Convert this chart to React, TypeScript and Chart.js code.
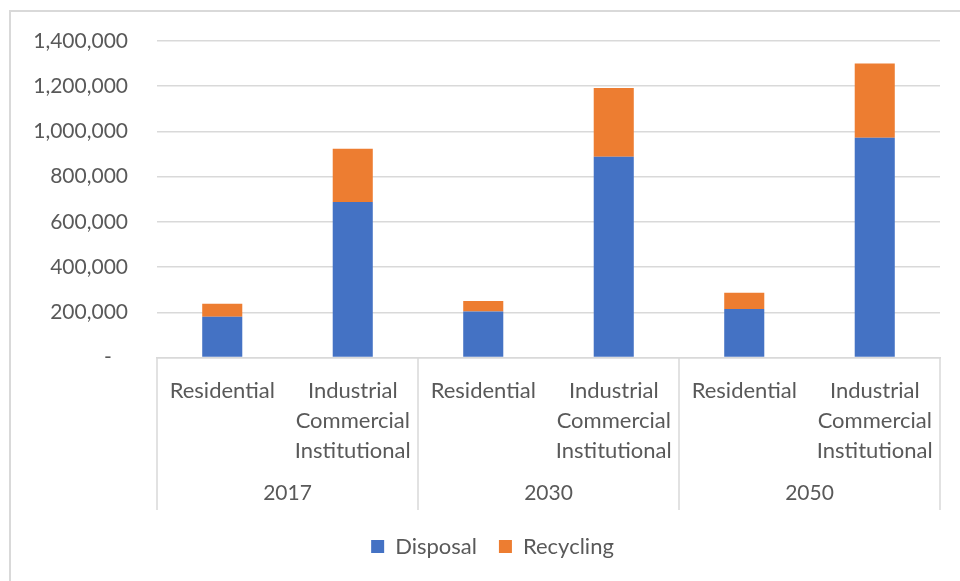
import React, { useEffect, useRef } from 'react';
import { Chart, registerables } from 'chart.js';

Chart.register(...registerables);

// ---- data ----
const categories: string[][] = [
  ['Residential'],
  ['Industrial', 'Commercial', 'Institutional'],
  ['Residential'],
  ['Industrial', 'Commercial', 'Institutional'],
  ['Residential'],
  ['Industrial', 'Commercial', 'Institutional'],
];
const years = ['2017', '2030', '2050'];
const disposal = [180000, 688000, 203000, 888000, 214000, 972000];
const recycling = [58000, 235000, 47000, 304000, 72000, 328000];
const yMin = 0;
const yMax = 1400000;
const yStep = 200000;

// ---- styles ----
const BLUE = '#4472C4';
const ORANGE = '#ED7D31';
const GRID = '#D9D9D9';
const TEXT = '#595959';
const FONT = 'Lato';
const LEGEND_SHIFT = 17;

const groupSeparators = {
  id: 'groupSeparators',
  afterDraw(chart: any) {
    const x = chart.scales.x;
    const x2 = chart.scales.x2;
    const ctx = chart.ctx;
    const n = categories.length;
    const step = x.getPixelForValue(1) - x.getPixelForValue(0);
    const perGroup = n / years.length;
    ctx.save();
    ctx.strokeStyle = GRID;
    ctx.lineWidth = 1.5;
    for (let g = 0; g <= years.length; g++) {
      const px = x.getPixelForValue(g * perGroup) - step / 2;
      ctx.beginPath();
      ctx.moveTo(px, chart.chartArea.bottom);
      ctx.lineTo(px, x2.top + 44.5);
      ctx.stroke();
    }
    ctx.restore();
  },
};

const legendShift = {
  id: 'legendShift',
  afterLayout(chart: any) {
    const l = chart.legend;
    if (l) {
      l.left += LEGEND_SHIFT;
      l.right += LEGEND_SHIFT;
    }
  },
};

export default function App() {
  const ref = useRef<HTMLCanvasElement | null>(null);

  useEffect(() => {
    if (!ref.current) return;
    const chart = new Chart(ref.current, {
      type: 'bar',
      data: {
        labels: categories as any,
        datasets: [
          {
            label: 'Disposal',
            data: disposal,
            backgroundColor: BLUE,
            barPercentage: 0.307,
            categoryPercentage: 1,
            xAxisID: 'x',
          },
          {
            label: 'Recycling',
            data: recycling,
            backgroundColor: ORANGE,
            barPercentage: 0.307,
            categoryPercentage: 1,
            xAxisID: 'x',
          },
        ],
      },
      options: {
        animation: false,
        responsive: true,
        maintainAspectRatio: false,
        layout: { padding: { top: 29, right: 20, bottom: 13.5, left: 0 } },
        plugins: {
          legend: {
            position: 'bottom',
            labels: {
              boxWidth: 13,
              boxHeight: 13,
              padding: 22,
              color: TEXT,
              font: { family: FONT, size: 22 },
            },
          },
          tooltip: { enabled: false },
        },
        scales: {
          x: {
            type: 'category',
            stacked: true,
            position: 'bottom',
            weight: 0,
            grid: { display: false, drawTicks: false },
            border: { display: true, color: GRID, width: 1.5 },
            ticks: {
              autoSkip: false,
              maxRotation: 0,
              minRotation: 0,
              padding: 18,
              color: TEXT,
              font: { family: FONT, size: 22, lineHeight: '30px' },
            },
            afterFit(scale: any) {
              scale.height = 108;
            },
          },
          x2: {
            type: 'category',
            labels: years,
            position: 'bottom',
            weight: 1,
            offset: true,
            grid: { display: false, drawTicks: false },
            border: { display: false },
            ticks: {
              autoSkip: false,
              maxRotation: 0,
              padding: 12.5,
              color: TEXT,
              font: { family: FONT, size: 21, lineHeight: '30px' },
            },
            afterFit(scale: any) {
              scale.height = 48;
            },
          },
          y: {
            stacked: true,
            min: yMin,
            max: yMax,
            grid: { color: GRID, lineWidth: 1.5, drawTicks: false },
            border: { display: false },
            ticks: {
              stepSize: yStep,
              padding: 29,
              color: TEXT,
              font: { family: FONT, size: 21 },
              callback: (v: any) => (Number(v) === 0 ? '-   ' : Number(v).toLocaleString('en-US')),
            },
            afterFit(scale: any) {
              scale.width = 146;
              scale.paddingTop = 0;
              scale.paddingBottom = 0;
            },
          },
        },
      } as any,
      plugins: [groupSeparators, legendShift],
    });
    return () => chart.destroy();
  }, []);

  return (
    <div
      style={{
        position: 'absolute',
        left: 9,
        top: 10,
        width: 949,
        height: 569,
        borderLeft: `2px solid ${GRID}`,
        borderTop: `2px solid ${GRID}`,
        background: '#fff',
      }}
    >
      <canvas ref={ref} />
    </div>
  );
}
